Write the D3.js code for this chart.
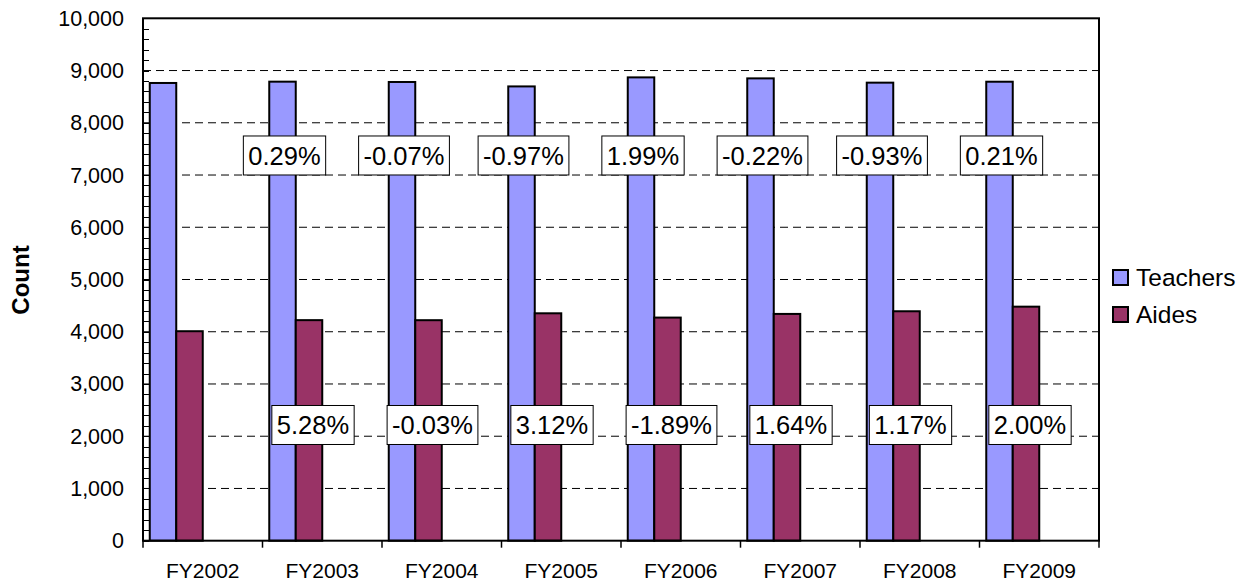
<!DOCTYPE html>
<html><head><meta charset="utf-8">
<script src="https://cdn.jsdelivr.net/npm/d3@7"></script>
<style>body{margin:0;background:#fff}svg{display:block}text{font-family:"Liberation Sans",Arial,sans-serif}</style>
</head><body>
<svg id="c" width="1246" height="585"></svg>
<script>
const categories = ["FY2002","FY2003","FY2004","FY2005","FY2006","FY2007","FY2008","FY2009"];
const teachers = [8762, 8787, 8781, 8696, 8869, 8850, 8768, 8786];
const aides = [4010, 4222, 4221, 4353, 4271, 4341, 4392, 4480];
const teacherChange = ["", "0.29%", "-0.07%", "-0.97%", "1.99%", "-0.22%", "-0.93%", "0.21%"];
const aidesChange = ["", "5.28%", "-0.03%", "3.12%", "-1.89%", "1.64%", "1.17%", "2.00%"];
const teacherLabelY = 7374;
const aidesLabelY = 2215;
const yTicks = [0,1000,2000,3000,4000,5000,6000,7000,8000,9000,10000];
const seriesNames = ["Teachers","Aides"];
const colors = ["#9999FF","#993366"];

const svg = d3.select("#c");
const L = 143, R = 1099, T = 18.3, B = 540.7;
const y = d3.scaleLinear().domain([0,10000]).range([B,T]);
const x0 = d3.scaleBand().domain(categories).range([L,R]).padding(0);
const x1 = d3.scaleBand().domain(["Teachers","Aides","s3","s4"]).range([0,x0.bandwidth()]).paddingInner(0).paddingOuter(0.255);

// gridlines
svg.append("g").selectAll("line").data(yTicks.filter(d=>d>0&&d<10000)).join("line")
  .attr("x1",L).attr("x2",R).attr("y1",d=>y(d)).attr("y2",d=>y(d))
  .attr("stroke","#000").attr("stroke-width",1).attr("stroke-dasharray","8,5");

// minor ticks
const minor = d3.range(0,10001,200);
svg.append("g").selectAll("line").data(minor).join("line")
  .attr("x1",L).attr("x2",L+6).attr("y1",d=>Math.round(y(d))+0.5).attr("y2",d=>Math.round(y(d))+0.5)
  .attr("stroke","#000").attr("stroke-width",1);

// bars
const g = svg.append("g");
categories.forEach((c,i)=>{
  [teachers[i], aides[i]].forEach((v,j)=>{
    g.append("rect")
      .attr("x", x0(c)+x1(seriesNames[j]))
      .attr("y", y(v))
      .attr("width", x1.bandwidth())
      .attr("height", y(0)-y(v))
      .attr("fill", colors[j]).attr("stroke","#000").attr("stroke-width",2);
  });
});

// frame
svg.append("rect").attr("x",L).attr("y",T).attr("width",R-L).attr("height",B-T)
  .attr("fill","none").attr("stroke","#000").attr("stroke-width",2);

// y axis labels
svg.append("g").selectAll("text").data(yTicks).join("text")
  .attr("x",L-19).attr("y",d=>y(d)+7.5).attr("text-anchor","end")
  .attr("font-size",21.5).text(d=>d3.format(",")(d));

// x axis ticks
const bounds = categories.map(c=>x0(c)).concat([R]);
svg.append("g").selectAll("line").data(bounds).join("line")
  .attr("x1",d=>d).attr("x2",d=>d).attr("y1",B).attr("y2",B+7)
  .attr("stroke","#000").attr("stroke-width",1.5);
svg.append("g").selectAll("text").data(categories).join("text")
  .attr("x",d=>x0(d)+x0.bandwidth()/2).attr("y",578).attr("text-anchor","middle")
  .attr("font-size",21).text(d=>d);

// y title
svg.append("text").attr("transform","translate(29,280) rotate(-90)")
  .attr("text-anchor","middle").attr("font-size",24).attr("font-weight","bold").text("Count");

// data labels
function label(cx, cy, txt){
  if(!txt) return;
  const gg = svg.append("g");
  const r = gg.append("rect");
  const t = gg.append("text").attr("x",cx).attr("y",cy+9.2).attr("text-anchor","middle")
    .attr("font-size",25.5).text(txt);
  const bb = t.node().getBBox();
  r.attr("x",bb.x-5).attr("y",cy-19.5).attr("width",bb.width+10).attr("height",39)
   .attr("fill","#fff").attr("stroke","#000").attr("stroke-width",1);
}
categories.forEach((c,i)=>{
  label(x0(c)+x1("Teachers")+x1.bandwidth()/2+2, y(teacherLabelY), teacherChange[i]);
  label(x0(c)+x1("Aides")+x1.bandwidth()/2+4, y(aidesLabelY), aidesChange[i]);
});

// legend
const lg = svg.append("g");
seriesNames.forEach((s,i)=>{
  lg.append("rect").attr("x",1113).attr("y",270+i*37).attr("width",15).attr("height",15)
    .attr("fill",colors[i]).attr("stroke","#000").attr("stroke-width",2);
  lg.append("text").attr("x",1136).attr("y",286+i*37).attr("font-size",24.5).text(s);
});
</script>
</body></html>
